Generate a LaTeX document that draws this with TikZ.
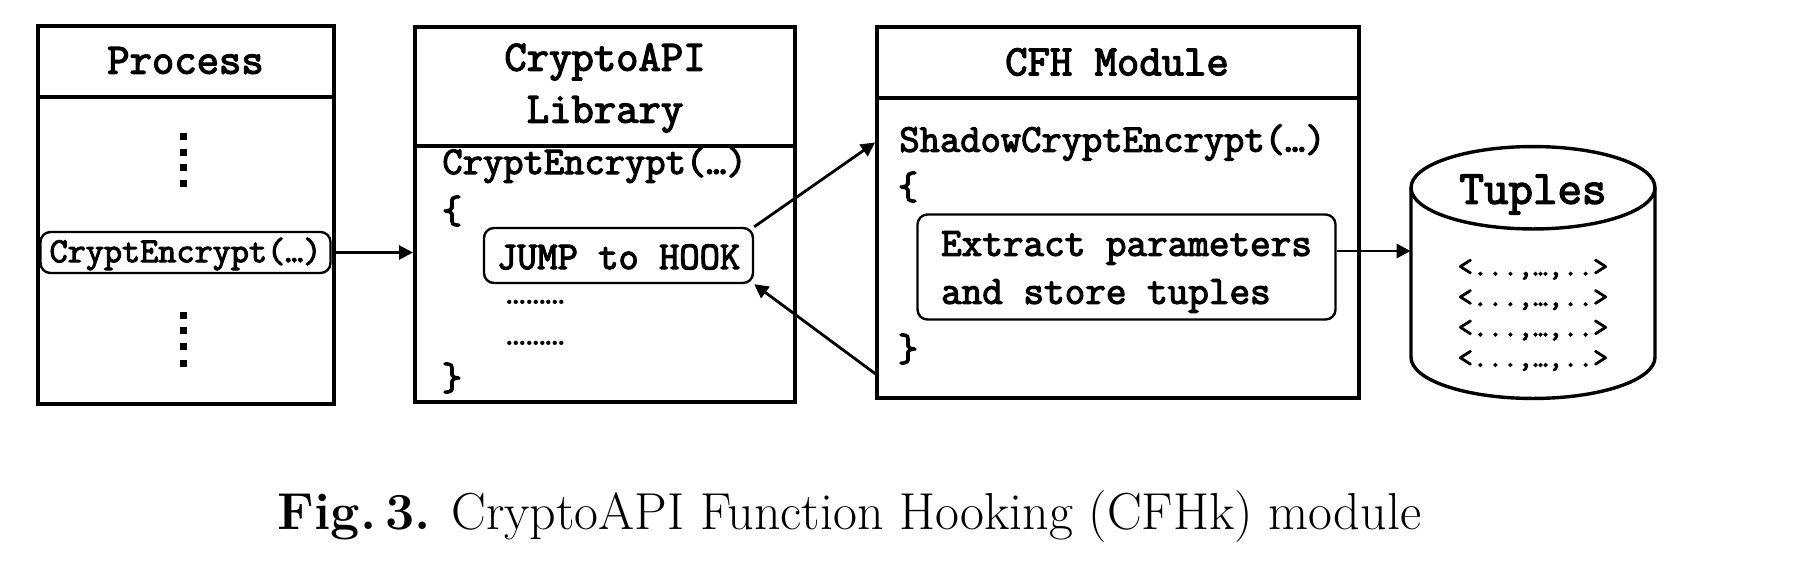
\documentclass[tikz,border=0pt]{standalone}
\usepackage{fontspec}
\setmonofont{Latin Modern Mono}[BoldFont={Latin Modern Mono}, BoldFeatures={FakeBold=3}]
\usetikzlibrary{arrows.meta,fit,calc}
\begin{document}
\begin{tikzpicture}[x=0.5pt,y=-0.5pt,
  outer/.style={draw, line width=2pt, inner sep=0pt},
  hdr/.style={line width=1.8pt},
  inbox/.style={draw, line width=1.2pt, rounded corners=5pt, inner sep=0pt},
  ttl/.style={font=\ttfamily\bfseries\fontsize{21.7}{26}\selectfont, inner sep=0pt},
  code/.style={font=\ttfamily\bfseries\fontsize{19.7}{24}\selectfont, inner sep=0pt},
  small/.style={font=\ttfamily\fontsize{19}{22}\selectfont, inner sep=0pt},
  arr/.style={line width=1.4pt, -{Triangle[length=7pt,width=7pt]}},
  cylline/.style={line width=1.7pt},
]
\useasboundingbox (0,0) rectangle (1812,568);

% ---------- Process ----------
\node[outer, fit={(38,26)(333.5,404)}] (proc) {};
\coordinate (ph) at (0,97);
\draw[hdr] (proc.west |- ph) -- (proc.east |- ph);
\node[ttl] (ptitle) at (185.5,60.5) {Process};
\node[inbox, fit={(40.5,232)(330.5,273)}] (pce) {};
\node[font=\ttfamily\bfseries\fontsize{17.6}{21}\selectfont, inner sep=0pt] (pcetext) at (185.5,254) {CryptEncrypt(…)};
\foreach \yy in {133,149,164,180,312,327,343,360}
  \fill (179.5,\yy) rectangle ++(7,7);

% ---------- CryptoAPI Library ----------
\node[outer, fit={(415,27)(795,402)}] (lib) {};
\coordinate (lh) at (0,146);
\draw[hdr] (lib.west |- lh) -- (lib.east |- lh);
\node[ttl, align=center] (ltitle) at (605,88) {CryptoAPI\\Library};
\node[code, anchor=base west] (lce) at (442,174) {CryptEncrypt(…)};
\node[code] (lob) at (452,211) {\{};
\node[inbox, fit={(484,228)(753,283)}] (jump) {};
\node[code] (jumptext) at (618.5,257) {JUMP to HOOK};
\node[small, anchor=base] (ld1) at (536,304) {………};
\node[small, anchor=base] (ld2) at (536,345) {………};
\node[code] (lcb) at (452,378) {\}};

% ---------- CFH Module ----------
\node[outer, fit={(877,26.5)(1359,398)}] (cfh) {};
\coordinate (ch) at (0,98);
\draw[hdr] (cfh.west |- ch) -- (cfh.east |- ch);
\node[ttl] (ctitle) at (1117,62) {CFH Module};
\node[code, anchor=west] (sh) at (899,142.5) {ShadowCryptEncrypt(…)};
\node[code] (cob) at (908,187) {\{};
\node[inbox, fit={(917.5,214.5)(1335.5,319.5)}] (ext) {};
\node[code, align=left, font=\ttfamily\bfseries\fontsize{20}{24}\selectfont] (exttext) at (1126.5,272) {Extract parameters\\and store tuples};
\node[code] (ccb) at (908,349) {\}};

% ---------- Tuples cylinder ----------
\node[inner sep=0pt, fit={(1411,146.5)(1655,398.5)}] (cyl) {};
\draw[cylline] (1533,187.75) ellipse[x radius=61pt, y radius=20.6pt];
\draw[cylline] (1411,187.75) -- (1411,357.25)
  arc[start angle=180, end angle=360, x radius=61pt, y radius=20.6pt]
  -- (1655,187.75);
\node[font=\ttfamily\bfseries\fontsize{23.8}{28}\selectfont, inner sep=0pt] (ttitle) at (1533,194.5) {Tuples};
\node[font=\ttfamily\bfseries\fontsize{14.6}{15.2}\selectfont, align=center, inner sep=0pt] (rows) at (1533,315)
  {<...,…,..>\\<...,…,..>\\<...,…,..>\\<...,…,..>};

% ---------- connectors ----------
\coordinate (rs) at (877,375);
\draw[arr] (pce.east) -- (pce.east -| lib.west);
\draw[arr] (jump.north east) -- (cfh.west |- sh.center);
\draw[arr] (rs) -- (jump.south east);
\draw[arr] ([yshift=8pt]ext.east) -- ([yshift=8pt]ext.east -| cyl.west);

% ---------- caption ----------
\node[font=\fontsize{26}{31}\selectfont, anchor=base, inner sep=0pt] (cap) at (849.5,529)
  {\textbf{Fig.\,3.} CryptoAPI Function Hooking (CFHk) module};
\end{tikzpicture}
\end{document}
